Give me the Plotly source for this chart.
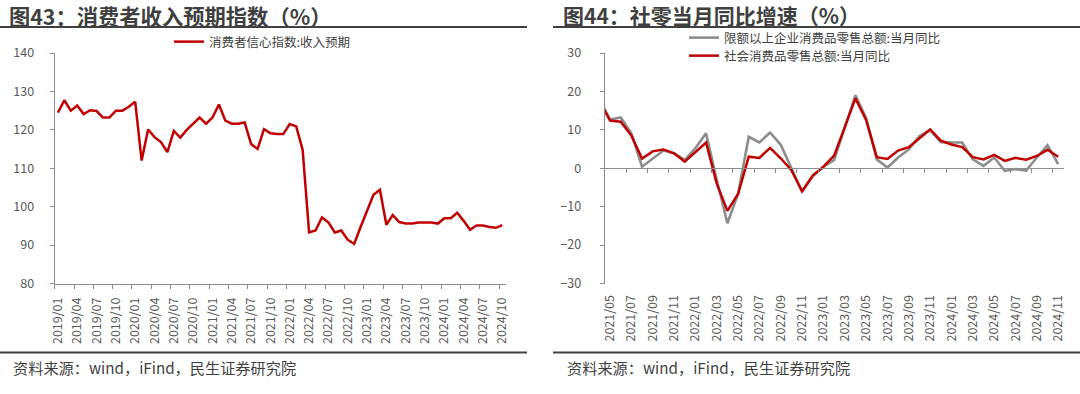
import plotly.graph_objects as go
import pandas as pd

W, H = 1080, 394
FONT = "Noto Sans CJK SC"

# ---------------- data ----------------
left_months = [d.strftime("%Y/%m") for d in pd.date_range("2019-01-01", "2024-10-01", freq="MS")]
income_expect = [
    124.5, 127.7, 125.0, 126.3, 124.1, 125.1, 124.9, 123.2, 123.2, 125.0, 125.0, 126.0,
    127.3, 112.0, 120.1, 118.1, 116.8, 114.2, 119.7, 118.0, 120.0, 121.5, 123.2, 121.6,
    123.2, 126.6, 122.4, 121.6, 121.6, 121.9, 116.3, 115.0, 120.2, 119.1, 118.9, 118.9,
    121.5, 120.9, 114.8, 93.3, 93.8, 97.2, 95.9, 93.3, 93.8, 91.4, 90.3, 94.7,
    98.9, 103.1, 104.4, 95.3, 97.8, 96.0, 95.6, 95.6, 95.9, 95.9, 95.9, 95.6,
    97.0, 97.0, 98.4, 96.3, 94.0, 95.1, 95.1, 94.7, 94.5, 95.2,
]

# right chart: 2021/04 .. 2024/11 (first month lies just left of the visible axis)
right_months = [d.strftime("%Y/%m") for d in pd.date_range("2021-04-01", "2024-11-01", freq="MS")]
retail_above = [
    17.8, 12.7, 13.2, 9.1, 0.4, 2.6, 4.6, 3.9, 2.2, 5.2, 9.1, -3.0, -14.3, -6.7, 8.2, 6.7,
    9.3, 6.1, 0.0, -6.1, -2.0, 0.4, 2.1, 10.5, 19.0, 13.0, 2.3, 0.2, 2.8, 4.9, 8.4, 9.9,
    6.8, 6.7, 6.7, 2.3, 0.6, 2.8, -0.7, -0.2, -0.6, 2.8, 6.0, 1.1,
]
retail_total = [
    17.7, 12.4, 12.1, 8.5, 2.5, 4.4, 4.9, 3.9, 1.7, 4.3, 6.7, -4.0, -11.1, -6.7, 3.0, 2.7,
    5.3, 2.6, -0.5, -6.0, -1.9, 0.4, 3.3, 10.7, 18.2, 12.6, 2.9, 2.4, 4.6, 5.5, 7.7, 10.1,
    7.2, 6.2, 5.5, 2.9, 2.3, 3.5, 1.9, 2.7, 2.2, 3.2, 4.8, 3.0,
]

left_title = "图43：消费者收入预期指数（%）"
right_title = "图44：社零当月同比增速（%）"
source_text = "资料来源：wind，iFind，民生证券研究院"
left_name = "消费者信心指数:收入预期"
above_name = "限额以上企业消费品零售总额:当月同比"
total_name = "社会消费品零售总额:当月同比"

# ---------------- helpers ----------------
def fx(px):
    return px / W

def fy(py):
    return 1 - py / H

AX = "#8c8c8c"
TXT = "#595959"
DARK = "#3f3f3f"
RED = "#C00000"
GRAY = "#8c8c8c"

y_dom = [fy(283.5), fy(53)]

left_x = list(range(len(left_months)))
right_x = list(range(-1, len(right_months) - 1))

fig = go.Figure()
fig.add_trace(go.Scatter(x=left_x, y=income_expect, mode="lines", name=left_name,
                         line=dict(color=RED, width=2.5), xaxis="x", yaxis="y",
                         legend="legend", hoverinfo="skip"))
fig.add_trace(go.Scatter(x=right_x, y=retail_above, mode="lines", name=above_name,
                         line=dict(color=GRAY, width=2.6), xaxis="x2", yaxis="y2",
                         legend="legend2", hoverinfo="skip"))
fig.add_trace(go.Scatter(x=right_x, y=retail_total, mode="lines", name=total_name,
                         line=dict(color=RED, width=2.5), xaxis="x3", yaxis="y2",
                         legend="legend3", hoverinfo="skip"))

tickfont = dict(family=FONT, size=12.5, color=TXT)
legfont = dict(family=FONT, size=12.5, color=DARK)

n_left = len(left_months)
n_right = len(right_months) - 1  # visible categories

def leg(xpx, ypx):
    return dict(x=fx(xpx), y=fy(ypx), xanchor="left", yanchor="top",
                bgcolor="rgba(0,0,0,0)", font=legfont, itemwidth=30, tracegroupgap=0)

fig.update_layout(
    width=W, height=H,
    margin=dict(l=0, r=0, t=0, b=0, autoexpand=False),
    paper_bgcolor="white", plot_bgcolor="white",
    font=dict(family=FONT, color=DARK),
    hovermode=False,
    xaxis=dict(
        domain=[fx(54.7), fx(505.5)], range=[-0.5, n_left - 0.5], anchor="y",
        tickmode="array", tickvals=left_x[::3], ticktext=left_months[::3],
        tickangle=-90, ticks="", showgrid=False, zeroline=False, automargin=False,
        showline=True, linecolor=AX, linewidth=1,
        tickfont=tickfont, ticklabelstandoff=8,
        minor=dict(tickmode="array", tickvals=[-0.5 + 3 * k for k in range(n_left // 3 + 1)],
                   ticks="outside", ticklen=4, tickcolor=AX, tickwidth=1, showgrid=False),
    ),
    yaxis=dict(
        domain=y_dom, range=[80, 140], dtick=10, tick0=80, anchor="x", automargin=False,
        ticks="outside", ticklen=4, tickcolor=AX, showline=True, linecolor=AX,
        showgrid=False, zeroline=False, tickfont=tickfont, ticklabelstandoff=13,
    ),
    xaxis2=dict(
        domain=[fx(604.7), fx(1063.5)], range=[-0.5, n_right - 0.5], anchor="y2",
        tickmode="array", tickvals=right_x[1::2], ticktext=right_months[1::2],
        tickangle=-90, ticks="", showgrid=False, zeroline=False, showline=False,
        tickfont=tickfont, ticklabelstandoff=8, automargin=False,
    ),
    xaxis3=dict(
        domain=[fx(604.7), fx(1063.5)], range=[-0.5, n_right - 0.5],
        overlaying="x2", anchor="free", position=(y_dom[0] + y_dom[1]) / 2, side="bottom",
        showticklabels=False, ticks="", showgrid=False, zeroline=False, automargin=False,
        showline=True, linecolor=AX, linewidth=1,
        minor=dict(tickmode="array", tickvals=[-0.5 + 2 * k for k in range(n_right // 2 + 2)],
                   ticks="outside", ticklen=4, tickcolor=AX, tickwidth=1, showgrid=False),
    ),
    yaxis2=dict(
        domain=y_dom, range=[-30, 30], dtick=10, tick0=-30, anchor="x2", automargin=False,
        ticks="outside", ticklen=4, tickcolor=AX, showline=True, linecolor=AX,
        showgrid=False, zeroline=False, tickfont=tickfont, ticklabelstandoff=16,
    ),
    legend=leg(169, 27),
    legend2=leg(684, 23),
    legend3=leg(684, 41),
    showlegend=True,
)

# titles
fig.add_annotation(text="<b>" + left_title + "</b>", x=fx(7), y=fy(15), xref="paper", yref="paper",
                   xanchor="left", yanchor="middle", showarrow=False,
                   font=dict(family=FONT, size=21.3, color=DARK))
fig.add_annotation(text="<b>" + right_title + "</b>", x=fx(561), y=fy(15), xref="paper", yref="paper",
                   xanchor="left", yanchor="middle", showarrow=False,
                   font=dict(family=FONT, size=21, color=DARK))
# sources
for x0 in (11, 565):
    fig.add_annotation(text=source_text, x=fx(x0), y=fy(367), xref="paper", yref="paper",
                       xanchor="left", yanchor="middle", showarrow=False,
                       font=dict(family=FONT, size=15.2, color=DARK))

# rules
for (xa, xb) in ((0, 527), (553, 1080)):
    fig.add_shape(type="line", xref="paper", yref="paper", x0=fx(xa), x1=fx(xb),
                  y0=fy(27), y1=fy(27), line=dict(color="#404040", width=2))
    fig.add_shape(type="line", xref="paper", yref="paper", x0=fx(xa), x1=fx(xb),
                  y0=fy(352.5), y1=fy(352.5), line=dict(color="#404040", width=2))

fig.write_html("out.html", config={"displayModeBar": False, "staticPlot": True},
               post_script="document.body.style.margin='0';")
